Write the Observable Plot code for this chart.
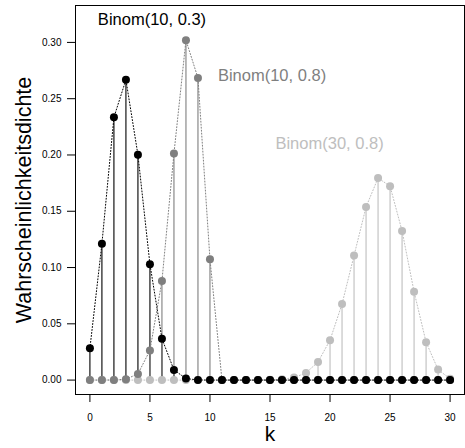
<!DOCTYPE html>
<html>
<head>
<meta charset="utf-8">
<script src="https://cdn.jsdelivr.net/npm/d3@7"></script>
<script src="https://cdn.jsdelivr.net/npm/@observablehq/plot@0.6"></script>
<style>
  html, body { margin: 0; padding: 0; background: white; }
  #chart { width: 465px; height: 448px; }
</style>
</head>
<body>
<div id="chart"></div>
<script>
const k = [0,1,2,3,4,5,6,7,8,9,10,11,12,13,14,15,16,17,18,19,20,21,22,23,24,25,26,27,28,29,30];
const binom10_03 = [0.0282,0.1211,0.2335,0.2668,0.2001,0.1029,0.0368,0.0090,0.0014,0.0001,0.0000,
  0,0,0,0,0,0,0,0,0,0,0,0,0,0,0,0,0,0,0,0];
const binom10_08 = [0.0000,0.0000,0.0001,0.0008,0.0055,0.0264,0.0881,0.2013,0.3020,0.2684,0.1074,
  0,0,0,0,0,0,0,0,0,0,0,0,0,0,0,0,0,0,0,0];
const binom30_08 = [0,0,0,0,0,0,0,0,0,0,0,0,0,0,0.0000,0.0002,0.0007,0.0022,0.0064,0.0161,
  0.0355,0.0676,0.1106,0.1538,0.1795,0.1723,0.1325,0.0785,0.0337,0.0093,0.0012];
const seriesNames = ["Binom(10, 0.3)", "Binom(10, 0.8)", "Binom(30, 0.8)"];
const seriesColors = ["#000000", "#7f7f7f", "#bebebe"];
const labelX = [5.17, 15.17, 19.96];
const labelY = [0.32, 0.27, 0.21];
const xTicks = [0,5,10,15,20,25,30];
const yTicks = [0,0.05,0.10,0.15,0.20,0.25,0.30];

const seriesValues = [binom10_03, binom10_08, binom30_08];
const rows = seriesValues.map((vals, i) => k.map((kk, j) => ({k: kk, p: vals[j], s: seriesNames[i]})));
const labels = seriesNames.map((n, i) => ({name: n, x: labelX[i], y: labelY[i], color: seriesColors[i]}));

const font = "'Liberation Sans', Arial, Helvetica, sans-serif";

const marks = [
  Plot.frame({stroke: "#000", strokeWidth: 1}),
  Plot.axisY({ticks: yTicks, tickFormat: d3.format(".2f"), tickSize: 8, tickPadding: 6, fontSize: 10, label: null}),
  Plot.axisX({ticks: xTicks, tickFormat: d3.format("d"), tickSize: 8, tickPadding: 11, fontSize: 10, label: null}),
];
// vertical lines (all below points)
[0,1,2].forEach(i => {
  marks.push(Plot.ruleX(rows[i], {x: "k", y1: 0, y2: "p", stroke: seriesColors[i], strokeWidth: 1.1}));
});
// dotted connecting lines
[2,1,0].forEach(i => {
  marks.push(Plot.line(rows[i], {x: "k", y: "p", stroke: seriesColors[i], strokeWidth: 1, strokeDasharray: "1,2"}));
});
// points: light gray first, black last
[2,1,0].forEach(i => {
  marks.push(Plot.dot(rows[i], {x: "k", y: "p", r: 4, fill: seriesColors[i], stroke: "none"}));
});
marks.push(Plot.text(labels, {x: "x", y: "y", text: "name", fill: "color", fontSize: 16.5, textAnchor: "middle", lineAnchor: "middle"}));
marks.push(Plot.text(["Wahrscheinlichkeitsdichte"], {frameAnchor: "left", dx: -51, rotate: -90, fontSize: 21.5, fill: "#000", textAnchor: "middle", lineAnchor: "middle"}));
marks.push(Plot.text(["k"], {frameAnchor: "bottom", dy: 40, fontSize: 21, fill: "#000", textAnchor: "middle", lineAnchor: "middle"}));

const chart = Plot.plot({
  width: 465,
  height: 448,
  marginLeft: 75,
  marginRight: 1,
  marginTop: 5,
  marginBottom: 54,
  x: {domain: [-1.2, 31.2]},
  y: {domain: [-0.0128, 0.3328]},
  style: {fontFamily: font, background: "white", color: "#000", overflow: "visible"},
  marks
});
document.getElementById("chart").appendChild(chart);
</script>
</body>
</html>
